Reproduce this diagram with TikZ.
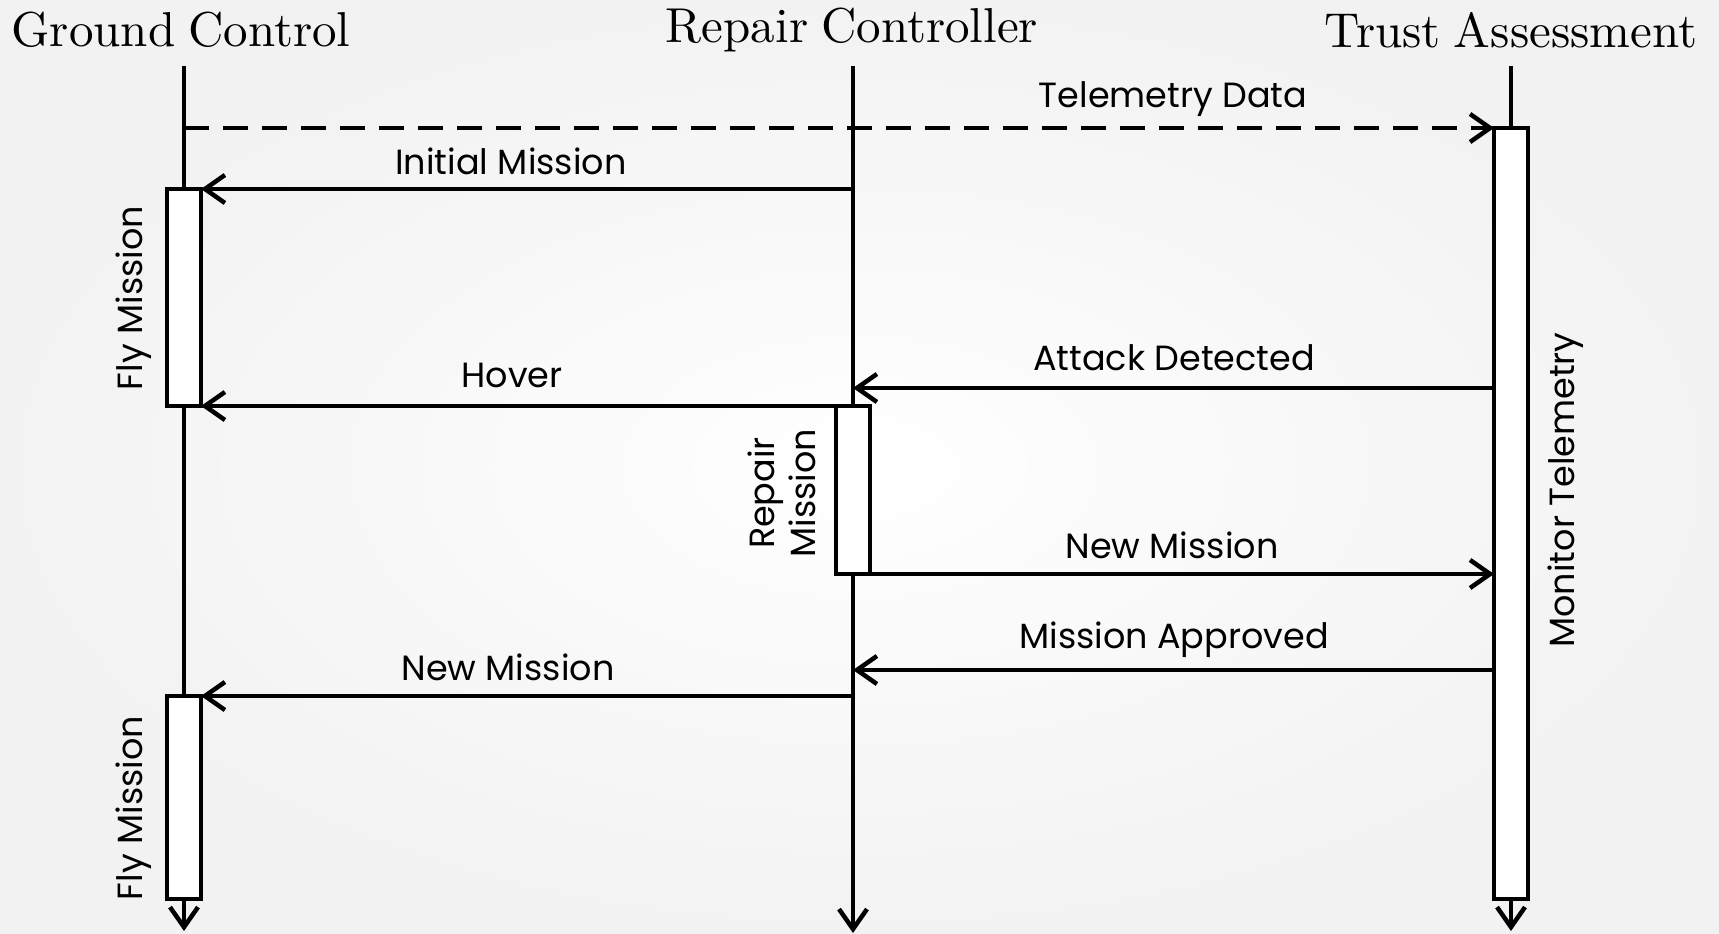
\documentclass[tikz,border=0pt]{standalone}
\usepackage{fontspec}
\usetikzlibrary{arrows.meta}
\newfontfamily\lblfont{Poppins}
\newfontfamily\titlefont[WordSpace=0.8]{lmroman10-regular.otf}
\begin{document}
\begin{tikzpicture}[x=1pt,y=-1pt,
  line width=4.5pt,
  title/.style={font=\titlefont\fontsize{49}{58}\selectfont, inner sep=0pt},
  lbl/.style={font=\lblfont\fontsize{35}{41}\selectfont, inner sep=0pt},
  vlbl/.style={lbl, rotate=90, align=center},
  actbox/.style={draw, fill=white, minimum width=34pt, inner sep=0pt, outer sep=0pt, line join=miter},
  tipstyle/.style={-{Straight Barb[length=20pt,width=28pt,line width=4.5pt]}},
  msg/.style={tipstyle},
  async/.style={tipstyle, dash pattern=on 25pt off 14pt},
  life/.style={line cap=butt}
]
\useasboundingbox (0,0) rectangle (1719,934);
\shade[inner color=white, outer color=black!5] (0,0) rectangle (1719,934);

% titles
\node[title] (gcT) at (181,30) {Ground Control};
\node[title] (rcT) at (852,30) {Repair Controller};
\node[title] (taT) at (1511,30) {Trust Assessment};

% lifeline tops / ends
\coordinate (gcTop) at (184,66);
\coordinate (rcTop) at (853,66);
\coordinate (taTop) at (1511,66);
\coordinate (gcEnd) at (184,931);
\coordinate (rcEnd) at (853,933);
\coordinate (taEnd) at (1511,931);
\coordinate (yTel) at (0,128);
\coordinate (yAtk) at (0,388);
\coordinate (yApp) at (0,670);

% activation boxes (nodes so lines attach to them)
\node[actbox, minimum height=217pt] (gc1) at (184,297.5) {};
\node[actbox, minimum height=203pt] (gc2) at (184,797.5) {};
\node[actbox, minimum height=168pt] (rc1) at (853,490) {};
\node[actbox, minimum height=771pt] (ta1) at (1511,513.5) {};

% lifelines
\draw[life] (gcTop) -- (gc1.north);
\draw[life] (gc1.south) -- (gc2.north);
\draw[msg] (gc2.south) -- (gcEnd);
\draw[life] (rcTop) -- (rc1.north);
\draw[msg] (rc1.south) -- (rcEnd);
\draw[life] (taTop) -- (ta1.north);
\draw[msg] (ta1.south) -- (taEnd);

% redraw boxes on top of lifelines
\node[actbox, minimum height=217pt] at (gc1) {};
\node[actbox, minimum height=203pt] at (gc2) {};
\node[actbox, minimum height=168pt] at (rc1) {};
\node[actbox, minimum height=771pt] at (ta1) {};

% messages
\draw[async] (gcTop |- yTel) -- (ta1.north west);
\draw[msg] (rcTop |- gc1.north) -- (gc1.north east);
\draw[msg] (ta1.west |- yAtk) -- (rcTop |- yAtk);
\draw[msg] (rc1.north) -- (gc1.south east);
\draw[msg] (rc1.south east) -- (ta1.west |- rc1.south east);
\draw[msg] (ta1.west |- yApp) -- (rcTop |- yApp);
\draw[msg] (rcTop |- gc2.north) -- (gc2.north east);

% labels
\node[lbl] (lTel) at (1173,99) {Telemetry Data};
\node[lbl] (lInit) at (511,161) {Initial Mission};
\node[lbl] (lAtk) at (1174,358) {Attack Detected};
\node[lbl] (lHov) at (512,375) {Hover};
\node[lbl] (lNew1) at (1172,545) {New Mission};
\node[lbl] (lApp) at (1174,640) {Mission Approved};
\node[lbl] (lNew2) at (508,667) {New Mission};
\node[vlbl] (lFly1) at (134,298) {Fly Mission};
\node[vlbl] (lFly2) at (134,808) {Fly Mission};
\node[vlbl] (lRep) at (782,493) {Repair\\Mission};
\node[vlbl] (lMon) at (1566,490) {Monitor Telemetry};
\end{tikzpicture}
\end{document}
